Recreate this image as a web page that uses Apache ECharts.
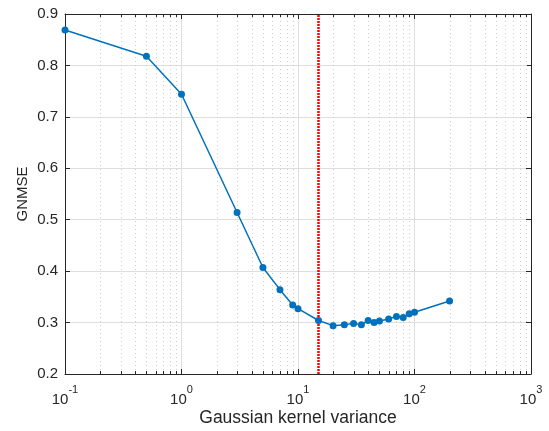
<!DOCTYPE html>
<html>
<head>
<meta charset="utf-8">
<script src="https://cdn.jsdelivr.net/npm/echarts@6/dist/echarts.min.js"></script>
<style>
html,body{margin:0;padding:0;background:#fff;}
#chart{width:549px;height:431px;}
</style>
</head>
<body>
<div id="chart"></div>
<script>
// Data
const kernelVariance = [0.1, 0.5, 1, 3, 5, 7, 9, 10, 15, 20, 25, 30, 35, 40, 45, 50, 60, 70, 80, 90, 100, 200];
const gnmse = [0.869, 0.818, 0.744, 0.514, 0.407, 0.364, 0.334, 0.327, 0.304, 0.294, 0.296, 0.298, 0.296, 0.304, 0.300, 0.303, 0.307, 0.312, 0.310, 0.317, 0.320, 0.342];
const selectedVariance = [15];
const minorTickValues = [0.2,0.3,0.4,0.5,0.6,0.7,0.8,0.9, 2,3,4,5,6,7,8,9, 20,30,40,50,60,70,80,90, 200,300,400,500,600,700,800,900];
const xMin = 0.1, xMax = 1000, yMin = 0.2, yMax = 0.9, yStep = 0.1;
const xName = 'Gaussian kernel variance';
const yName = 'GNMSE';

const FONT = 'Liberation Sans, Arial, Helvetica, sans-serif';
const TXT = '#262626';

const chart = echarts.init(document.getElementById('chart'), null, {renderer: 'canvas'});

const supFmt = v => {
  const e = Math.round(Math.log10(v));
  return '{b|10}{s|' + e + '}';
};

const option = {
  animation: false,
  backgroundColor: '#ffffff',
  grid: {left: 65, right: 18, top: 14, bottom: 57, containLabel: false, outerBoundsMode: 'none'},
  xAxis: [
    {
      type: 'log', logBase: 10, min: xMin, max: xMax, position: 'bottom',
      name: xName, nameLocation: 'middle', nameGap: 35, nameMoveOverlap: false,
      nameTextStyle: {fontFamily: FONT, fontSize: 17.5, color: TXT},
      axisLine: {show: true, lineStyle: {color: TXT, width: 1}},
      axisTick: {show: true, inside: true, length: 5, lineStyle: {color: TXT}},
      minorTick: {show: false},
      splitLine: {show: true, lineStyle: {color: '#dedede', width: 1}},
      axisLabel: {
        margin: 18, formatter: supFmt, color: TXT, fontFamily: FONT,
        rich: {
          b: {fontSize: 15, lineHeight: 15, fontFamily: FONT, color: TXT, verticalAlign: 'bottom'},
          s: {fontSize: 11, lineHeight: 11, fontFamily: FONT, color: TXT, verticalAlign: 'bottom', padding: [0, 0, 12, 0]}
        }
      }
    },
    {
      type: 'log', logBase: 10, min: xMin, max: xMax, position: 'top',
      axisLine: {show: true, lineStyle: {color: TXT, width: 1}},
      axisTick: {show: true, inside: true, length: 5, lineStyle: {color: TXT}},
      axisLabel: {show: false}, splitLine: {show: false}
    }
  ],
  yAxis: [
    {
      type: 'value', min: yMin, max: yMax, interval: yStep, position: 'left',
      name: yName, nameLocation: 'middle', nameGap: 35, nameRotate: 90, nameMoveOverlap: false,
      nameTextStyle: {fontFamily: FONT, fontSize: 15, color: TXT},
      axisLine: {show: true, lineStyle: {color: TXT, width: 1}},
      axisTick: {show: true, inside: true, length: 5, lineStyle: {color: TXT}},
      splitLine: {show: true, lineStyle: {color: '#dedede', width: 1}},
      axisLabel: {margin: 7, color: TXT, fontFamily: FONT, fontSize: 15, formatter: v => v.toFixed(1)}
    },
    {
      type: 'value', min: yMin, max: yMax, interval: yStep, position: 'right',
      axisLine: {show: true, lineStyle: {color: TXT, width: 1}},
      axisTick: {show: true, inside: true, length: 5, lineStyle: {color: TXT}},
      axisLabel: {show: false}, splitLine: {show: false}
    }
  ],
  series: [
    {
      type: 'custom', silent: true, z: 1, clip: false,
      data: minorTickValues.map(v => [v, yMin]),
      encode: {x: 0, y: 1},
      renderItem: function (params, api) {
        const v = api.value(0);
        const b = api.coord([v, yMin]);
        const t = api.coord([v, yMax]);
        const x = Math.round(b[0]) + 0.5;
        return {
          type: 'group',
          children: [
            {type: 'line', shape: {x1: x, y1: b[1], x2: x, y2: t[1]}, style: {stroke: '#cccccc', lineWidth: 1, lineDash: [1, 3]}},
            {type: 'line', shape: {x1: x, y1: b[1], x2: x, y2: b[1] - 3}, style: {stroke: TXT, lineWidth: 1}},
            {type: 'line', shape: {x1: x, y1: t[1], x2: x, y2: t[1] + 3}, style: {stroke: TXT, lineWidth: 1}}
          ]
        };
      }
    },
    {
      type: 'line', z: 5,
      data: kernelVariance.map((x, i) => [x, gnmse[i]]),
      lineStyle: {color: '#0072BD', width: 1.5},
      itemStyle: {color: '#0072BD'},
      symbol: 'circle', symbolSize: 7, showSymbol: true,
      markLine: {
        silent: true, symbol: ['none', 'none'], label: {show: false},
        lineStyle: {color: '#ff0000', type: [2, 1], width: 2.5},
        data: selectedVariance.map(v => ({xAxis: v}))
      }
    }
  ]
};
chart.setOption(option);
</script>
</body>
</html>
